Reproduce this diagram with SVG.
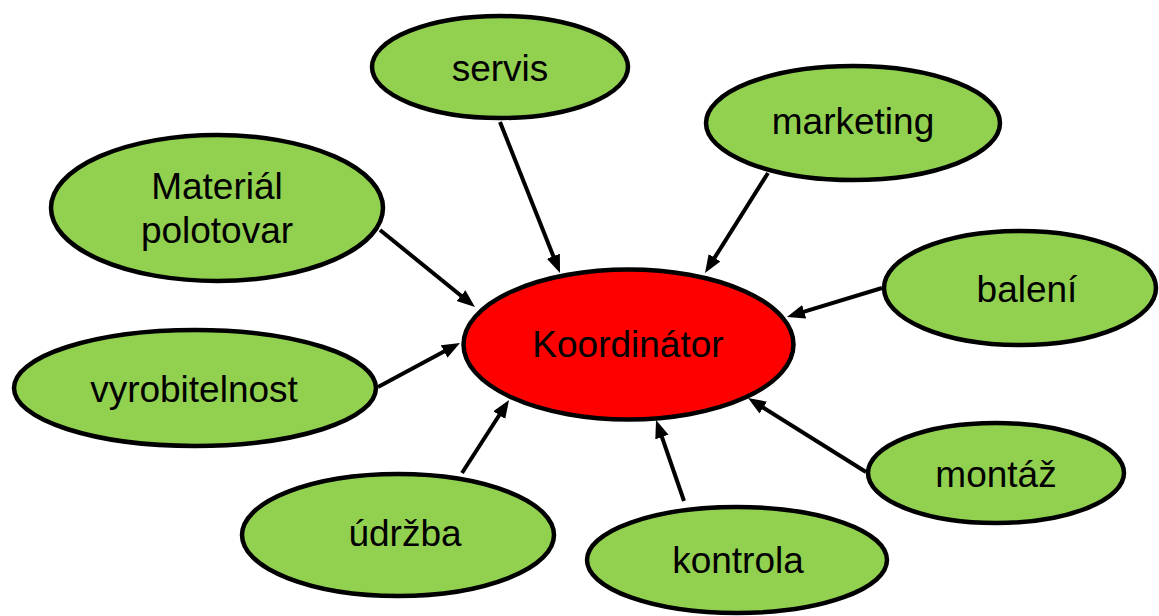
<svg xmlns="http://www.w3.org/2000/svg" width="1159" height="616" viewBox="0 0 1159 616">
<style>
.n{fill:#92D050;stroke:#000;stroke-width:4.5}
.c{fill:#FF0000;stroke:#000;stroke-width:4.5}
text{font-family:"Liberation Sans",Arial,sans-serif;font-size:37px;fill:#000;text-anchor:middle}
.e{stroke:#000;stroke-width:4;fill:none;marker-end:url(#ah)}
</style>
<defs>
<marker id="ah" markerUnits="userSpaceOnUse" markerWidth="20" markerHeight="16" refX="12" refY="7" orient="auto">
<path d="M0,0 L18,7 L0,14 z" fill="#000"/>
</marker>
</defs>
<rect width="1159" height="616" fill="#fff"/>
<g id="n-koordinator"><ellipse class="c" cx="628.5" cy="344.5" rx="165" ry="75"/><text x="628" y="357">Koordinátor</text></g>
<g id="n-servis"><ellipse class="n" cx="500" cy="67" rx="128" ry="51"/><text x="500" y="81">servis</text></g>
<g id="n-marketing"><ellipse class="n" cx="853" cy="123" rx="147" ry="57"/><text x="853" y="134">marketing</text></g>
<g id="n-material"><ellipse class="n" cx="217" cy="208" rx="166" ry="73"/><text x="217" y="199">Materiál</text><text x="217" y="243">polotovar</text></g>
<g id="n-vyrobitelnost"><ellipse class="n" cx="195" cy="388" rx="181" ry="58"/><text x="194" y="402">vyrobitelnost</text></g>
<g id="n-baleni"><ellipse class="n" cx="1020" cy="288" rx="136" ry="57"/><text x="1027" y="302">balení</text></g>
<g id="n-montaz"><ellipse class="n" cx="996" cy="473" rx="128" ry="50"/><text x="996" y="487">montáž</text></g>
<g id="n-udrzba"><ellipse class="n" cx="398" cy="535" rx="156" ry="61"/><text x="405" y="546">údržba</text></g>
<g id="n-kontrola"><ellipse class="n" cx="737" cy="560" rx="150" ry="53"/><text x="738" y="573">kontrola</text></g>
<g id="connectors">
<line class="e" x1="500" y1="122" x2="557.8" y2="267.4"/>
<line class="e" x1="768" y1="173" x2="708.2" y2="267.9"/>
<line class="e" x1="380" y1="230" x2="470.3" y2="303.2"/>
<line class="e" x1="378" y1="387" x2="454.7" y2="345.8"/>
<line class="e" x1="882" y1="288" x2="792.7" y2="315.2"/>
<line class="e" x1="866" y1="472" x2="753.1" y2="401.2"/>
<line class="e" x1="462" y1="473" x2="505.8" y2="405"/>
<line class="e" x1="684" y1="501" x2="658" y2="425.7"/>
</g>
</svg>
